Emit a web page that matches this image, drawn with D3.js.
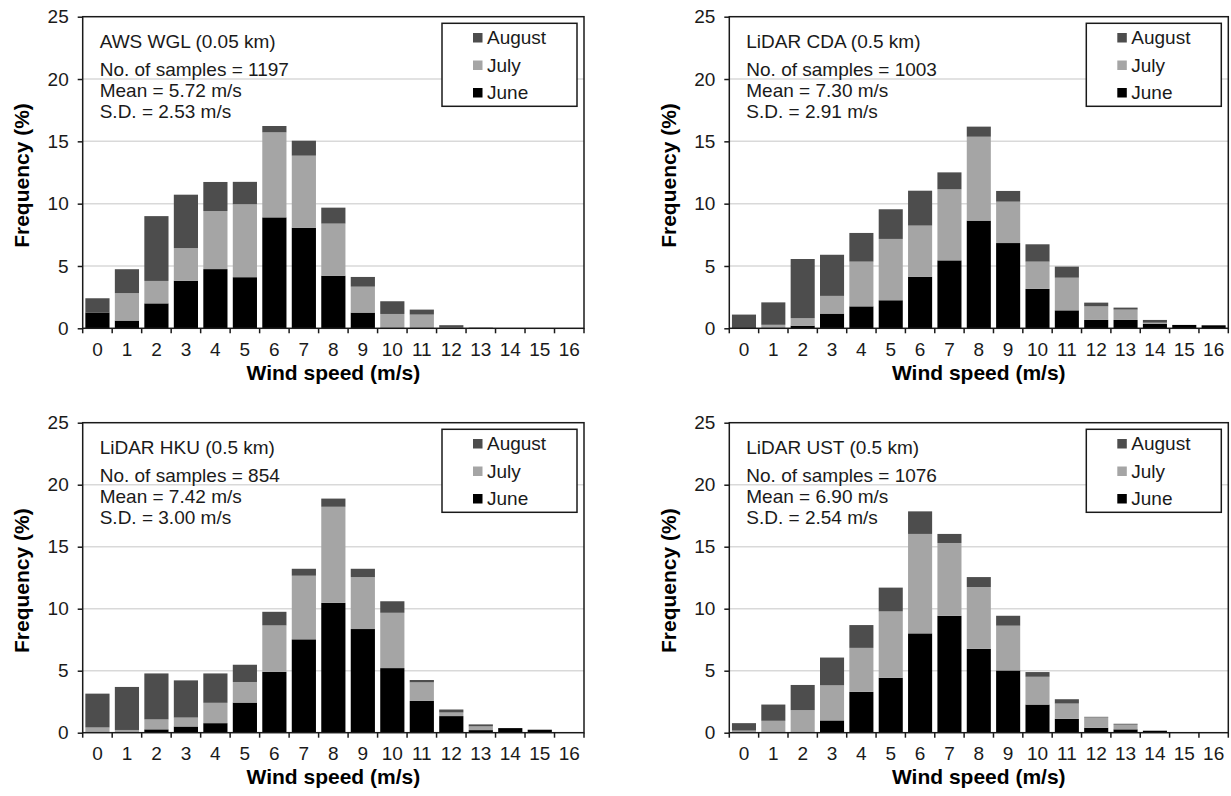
<!DOCTYPE html>
<html>
<head>
<meta charset="utf-8">
<script src="https://cdn.jsdelivr.net/npm/d3@7"></script>
<style>
  body { margin: 0; background: #fff; }
  text { font-family: Arial, "Liberation Sans", sans-serif; }
</style>
</head>
<body>
<script>
// data
var speeds = ["0","1","2","3","4","5","6","7","8","9","10","11","12","13","14","15","16"];
var months = ["June", "July", "August"];
var legendOrder = ["August", "July", "June"];
var yTicks = [0, 5, 10, 15, 20, 25];

var stationNames = ["AWS WGL (0.05 km)", "LiDAR CDA (0.5 km)", "LiDAR HKU (0.5 km)", "LiDAR UST (0.5 km)"];
var sampleCounts = ["1197", "1003", "854", "1076"];
var meanSpeeds = ["5.72", "7.30", "7.42", "6.90"];
var sdSpeeds = ["2.53", "2.91", "3.00", "2.54"];

// frequency (%) per wind speed bin, one array per month and station
var wglJune   = [1.27, 0.62, 2.0, 3.82, 4.75, 4.1, 8.9, 8.07, 4.22, 1.26, 0, 0, 0, 0, 0, 0, 0];
var wglJuly   = [0, 2.2, 1.8, 2.62, 4.66, 5.85, 6.82, 5.78, 4.18, 2.08, 1.15, 1.1, 0.05, 0, 0, 0, 0];
var wglAugust = [1.14, 1.92, 5.2, 4.28, 2.33, 1.8, 0.51, 1.2, 1.28, 0.78, 1.02, 0.4, 0.2, 0.05, 0, 0, 0];

var cdaJune   = [0, 0, 0.21, 1.18, 1.76, 2.25, 4.14, 5.45, 8.64, 6.84, 3.16, 1.44, 0.67, 0.67, 0.35, 0.27, 0.24];
var cdaJuly   = [0, 0.28, 0.6, 1.42, 3.59, 4.92, 4.1, 5.7, 6.73, 3.32, 2.19, 2.62, 1.09, 0.83, 0.1, 0, 0];
var cdaAugust = [1.1, 1.8, 4.75, 3.3, 2.3, 2.38, 2.8, 1.36, 0.81, 0.86, 1.39, 0.89, 0.3, 0.16, 0.22, 0, 0];

var hkuJune   = [0, 0, 0.27, 0.5, 0.77, 2.43, 4.91, 7.53, 10.47, 8.36, 5.21, 2.56, 1.34, 0.21, 0.37, 0.24, 0];
var hkuJuly   = [0.42, 0.22, 0.8, 0.72, 1.64, 1.66, 3.74, 5.13, 7.75, 4.19, 4.46, 1.5, 0.29, 0.3, 0, 0, 0];
var hkuAugust = [2.73, 3.47, 3.71, 3.0, 2.37, 1.39, 1.1, 0.56, 0.66, 0.67, 0.93, 0.19, 0.24, 0.16, 0, 0, 0];

var ustJune   = [0, 0, 0, 0.99, 3.29, 4.43, 8.01, 9.43, 6.76, 5.02, 2.27, 1.12, 0.4, 0.27, 0.16, 0, 0];
var ustJuly   = [0.17, 0.96, 1.82, 2.83, 3.55, 5.35, 8.02, 5.87, 4.99, 3.61, 2.24, 1.23, 0.83, 0.38, 0, 0, 0];
var ustAugust = [0.6, 1.31, 2.03, 2.24, 1.84, 1.92, 1.82, 0.73, 0.8, 0.8, 0.38, 0.35, 0.05, 0.07, 0, 0, 0];

var panelData = [
  [wglJune, wglJuly, wglAugust],
  [cdaJune, cdaJuly, cdaAugust],
  [hkuJune, hkuJuly, hkuAugust],
  [ustJune, ustJuly, ustAugust]
];

var colors = { June: "#000000", July: "#a5a5a5", August: "#4d4d4d" };

// layout of the four plot areas
var panels = [
  { left: 82.7,  right: 584,    top: 16.7,  bottom: 328.3 },
  { left: 729.3, right: 1228.3, top: 16.7,  bottom: 328.3 },
  { left: 82.7,  right: 584,    top: 422.7, bottom: 732.7 },
  { left: 729.3, right: 1228.3, top: 422.7, bottom: 732.7 }
];

var svg = d3.select("body")
  .append("svg")
  .attr("width", 1231)
  .attr("height", 796);

var stack = d3.stack().keys(months);

panels.forEach(function(p, i) {
  var g = svg.append("g");

  var x = d3.scaleBand()
    .domain(speeds)
    .range([p.left, p.right])
    .paddingInner(0.18)
    .paddingOuter(0.09);

  var y = d3.scaleLinear()
    .domain([0, 25])
    .range([p.bottom, p.top]);

  // gridlines
  g.selectAll(".grid")
    .data(yTicks.filter(function(t) { return t > 0 && t < 25; }))
    .enter().append("line")
    .attr("x1", p.left).attr("x2", p.right)
    .attr("y1", function(d) { return y(d); })
    .attr("y2", function(d) { return y(d); })
    .attr("stroke", "#d9d9d9")
    .attr("stroke-width", 1.5);

  // stacked bars
  var rows = speeds.map(function(s, k) {
    return { speed: s, June: panelData[i][0][k], July: panelData[i][1][k], August: panelData[i][2][k] };
  });
  var series = stack(rows);

  g.selectAll(".layer")
    .data(series)
    .enter().append("g")
    .attr("fill", function(d) { return colors[d.key]; })
    .selectAll("rect")
    .data(function(d) { return d; })
    .enter().append("rect")
    .attr("x", function(d) { return x(d.data.speed); })
    .attr("width", x.bandwidth())
    .attr("y", function(d) { return y(d[1]); })
    .attr("height", function(d) { return Math.max(0, y(d[0]) - y(d[1])); });

  // frame
  g.append("rect")
    .attr("x", p.left).attr("y", p.top)
    .attr("width", p.right - p.left).attr("height", p.bottom - p.top)
    .attr("fill", "none")
    .attr("stroke", "#1a1a1a")
    .attr("stroke-width", 1.5);

  // y axis
  var yAxis = d3.axisLeft(y).tickValues(yTicks).tickSize(5).tickPadding(9);
  var ya = g.append("g")
    .attr("transform", "translate(" + p.left + ",0)")
    .call(yAxis);
  ya.select(".domain").remove();
  ya.selectAll(".tick line").attr("stroke", "#1a1a1a").attr("stroke-width", 1.5);
  ya.selectAll(".tick text")
    .attr("font-size", 19)
    .attr("fill", "#1a1a1a")
    .style("font-family", "Arial, 'Liberation Sans', sans-serif");

  // x axis labels (centred on bars)
  var xAxis = d3.axisBottom(x).tickSize(0).tickPadding(14);
  var xa = g.append("g")
    .attr("transform", "translate(0," + p.bottom + ")")
    .call(xAxis);
  xa.select(".domain").remove();
  xa.selectAll(".tick text")
    .attr("font-size", 19)
    .attr("fill", "#1a1a1a")
    .style("font-family", "Arial, 'Liberation Sans', sans-serif");

  // x ticks at bin boundaries
  var half = x.step() * x.paddingInner() / 2;
  var bounds = speeds.map(function(s) { return x(s) - half; });
  bounds.push(x(speeds[speeds.length - 1]) + x.bandwidth() + half);
  g.selectAll(".xtick")
    .data(bounds)
    .enter().append("line")
    .attr("x1", function(d) { return d; })
    .attr("x2", function(d) { return d; })
    .attr("y1", p.bottom)
    .attr("y2", p.bottom + 5)
    .attr("stroke", "#1a1a1a")
    .attr("stroke-width", 1.5);

  // axis titles
  g.append("text")
    .attr("x", (p.left + p.right) / 2)
    .attr("y", p.bottom + 44)
    .attr("dy", "0.35em")
    .attr("text-anchor", "middle")
    .attr("font-size", 21)
    .attr("font-weight", "bold")
    .text("Wind speed (m/s)");

  g.append("text")
    .attr("transform", "translate(" + (p.left - 61) + "," + ((p.top + p.bottom) / 2 + 3) + ") rotate(-90)")
    .attr("dy", "0.35em")
    .attr("text-anchor", "middle")
    .attr("font-size", 21)
    .attr("font-weight", "bold")
    .text("Frequency (%)");

  // annotation
  var notes = [
    { t: stationNames[i], dy: 24.5 },
    { t: "No. of samples = " + sampleCounts[i], dy: 52.5 },
    { t: "Mean = " + meanSpeeds[i] + " m/s", dy: 74 },
    { t: "S.D. = " + sdSpeeds[i] + " m/s", dy: 95 }
  ];
  g.selectAll(".note")
    .data(notes)
    .enter().append("text")
    .attr("x", p.left + 17)
    .attr("y", function(d) { return p.top + d.dy; })
    .attr("dy", "0.35em")
    .attr("font-size", 19)
    .attr("fill", "#1a1a1a")
    .text(function(d) { return d.t; });

  // legend
  var lg = g.append("g")
    .attr("transform", "translate(" + (p.right - 142) + "," + (p.top + 6.6) + ")");
  lg.append("rect")
    .attr("width", 135).attr("height", 83)
    .attr("fill", "#fff")
    .attr("stroke", "#1a1a1a")
    .attr("stroke-width", 1.5);
  var items = lg.selectAll(".item")
    .data(legendOrder)
    .enter().append("g")
    .attr("transform", function(d, k) { return "translate(0," + (14.4 + k * 27.5) + ")"; });
  items.append("rect")
    .attr("x", 31).attr("y", -4.7)
    .attr("width", 9.5).attr("height", 9.5)
    .attr("fill", function(d) { return colors[d]; });
  items.append("text")
    .attr("x", 45)
    .attr("dy", "0.35em")
    .attr("font-size", 19)
    .attr("fill", "#1a1a1a")
    .text(function(d) { return d; });
});
</script>
</body>
</html>
